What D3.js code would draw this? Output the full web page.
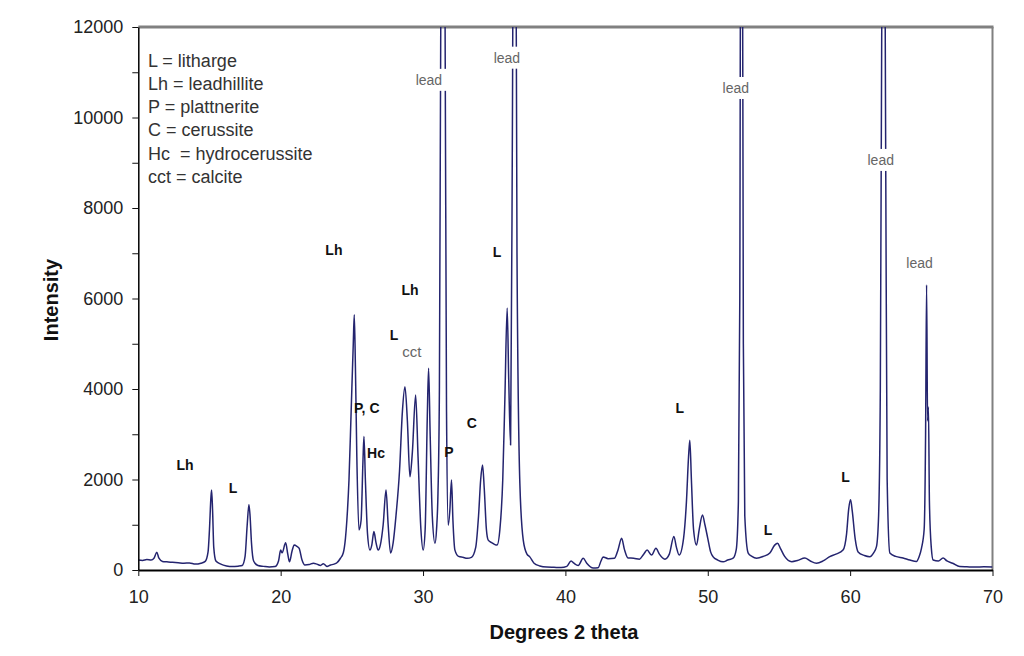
<!DOCTYPE html>
<html><head><meta charset="utf-8">
<script src="https://cdn.jsdelivr.net/npm/d3@7"></script>
<style>
body{margin:0;background:#fff}
text{font-family:"Liberation Sans",Arial,sans-serif}
</style>
</head><body>
<svg id="c" width="1024" height="656"></svg>
<script>
// ---- data ----
const scan = [
[10.0,220],[10.3,210],[10.6,230],[10.9,220],[11.1,260],[11.3,390],[11.45,260],[11.7,190],
[12.0,180],[12.4,170],[12.8,160],[13.2,150],[13.6,155],[14.0,130],[14.4,150],[14.7,190],
[14.9,400],[15.0,900],[15.1,1600],[15.15,1770],[15.22,1300],[15.3,500],[15.45,200],[15.8,130],
[16.2,90],[16.6,75],[17.0,85],[17.3,100],[17.5,300],[17.65,1000],[17.77,1440],[17.85,1200],
[17.95,600],[18.1,200],[18.4,100],[18.8,80],[19.2,65],[19.6,75],[19.85,200],[20.0,440],
[20.1,380],[20.35,600],[20.5,350],[20.62,180],[20.8,420],[20.95,550],[21.15,520],[21.3,480],
[21.5,220],[21.7,110],[22.0,120],[22.3,150],[22.55,130],[22.8,100],[23.0,140],[23.25,80],
[23.5,110],[23.75,130],[23.95,160],[24.2,260],[24.4,380],[24.55,700],[24.65,1100],[24.8,2000],
[24.95,3500],[25.1,5000],[25.17,5640],[25.25,4500],[25.35,2500],[25.5,885],[25.65,1100],[25.78,2400],
[25.85,2950],[25.95,2000],[26.1,800],[26.27,440],[26.4,550],[26.55,850],[26.7,600],[26.85,440],
[27.0,550],[27.2,1000],[27.4,1770],[27.55,1000],[27.72,375],[27.9,600],[28.1,1200],[28.35,2200],
[28.55,3500],[28.73,4050],[28.9,3300],[29.08,2060],[29.25,2600],[29.48,3870],[29.65,2500],[29.85,900],
[30.01,440],[30.15,900],[30.3,3400],[30.39,4460],[30.5,3000],[30.65,1200],[30.84,590],[30.95,900],
[31.05,1700],[31.15,4000],[31.25,12500],[31.33,16000],[31.45,16000],[31.55,12000],[31.65,3500],[31.77,990],
[31.88,1300],[32.0,1990],[32.1,1100],[32.24,440],[32.5,300],[32.8,280],[33.1,260],[33.4,280],
[33.7,500],[33.9,1200],[34.05,2000],[34.18,2320],[34.3,1800],[34.45,900],[34.58,660],[34.85,600],
[35.05,560],[35.2,550],[35.4,900],[35.6,2000],[35.75,3800],[35.91,5790],[36.02,4200],[36.15,2760],
[36.28,10000],[36.36,16000],[36.5,16000],[36.6,7000],[36.8,1920],[37.04,660],[37.3,350],[37.5,290],
[37.8,150],[38.2,90],[38.7,65],[39.2,60],[39.7,55],[40.1,80],[40.4,200],[40.6,150],
[40.9,100],[41.25,260],[41.5,150],[41.95,44],[42.3,50],[42.5,200],[42.65,290],[43.0,250],
[43.45,260],[43.7,450],[43.95,700],[44.15,450],[44.4,265],[44.8,260],[45.2,240],[45.5,350],
[45.74,440],[46.05,330],[46.36,480],[46.6,350],[46.99,240],[47.3,350],[47.62,740],[47.8,500],
[47.99,330],[48.3,700],[48.5,1500],[48.65,2500],[48.74,2870],[48.85,2000],[49.0,900],[49.21,550],
[49.4,900],[49.63,1215],[49.8,1000],[50.0,700],[50.2,400],[50.38,290],[50.7,220],[51.08,180],
[51.4,220],[51.78,260],[52.0,450],[52.15,1500],[52.25,6000],[52.32,16000],[52.42,16000],[52.5,5000],
[52.6,1200],[52.84,375],[53.1,300],[53.43,260],[53.9,300],[54.36,375],[54.7,550],[54.9,590],
[55.1,480],[55.4,300],[55.9,185],[56.3,210],[56.82,265],[57.2,200],[57.64,150],[58.1,200],
[58.57,295],[59.0,350],[59.5,440],[59.75,800],[59.9,1350],[60.03,1550],[60.15,1300],[60.35,700],
[60.56,400],[61.0,320],[61.38,295],[61.65,380],[61.85,515],[62.0,1200],[62.12,4000],[62.22,12000],
[62.3,16000],[62.4,16000],[62.5,9000],[62.6,2000],[62.79,375],[63.2,300],[63.72,265],[64.2,220],
[64.66,190],[64.85,300],[65.01,480],[65.2,900],[65.3,3000],[65.37,6300],[65.44,3300],[65.5,3600],
[65.57,1500],[65.7,500],[65.83,220],[66.2,200],[66.53,265],[66.8,200],[67.2,150],[67.7,75],
[68.2,70],[68.8,65],[69.4,70],[70.0,65]
];
const xTicks = [10,20,30,40,50,60,70];
const yTicks = [0,1000,2000,3000,4000,5000,6000,7000,8000,9000,10000,11000,12000];
const yLabelTicks = [0,2000,4000,6000,8000,10000,12000];
const legendLines = ["L = litharge","Lh = leadhillite","P = plattnerite","C = cerussite","Hc  = hydrocerussite","cct = calcite"];
const phaseText = ["Lh","L","Lh","P, C","Hc","Lh","L","P","C","L","L","L","L"];
const phaseX    = [13.28,16.66,23.74,26.05,26.7,29.08,27.96,31.82,33.43,35.19,48.04,54.24,59.68];
const phaseY    = [2320,1810,7070,3580,2590,6190,5190,2610,3250,7030,3580,880,2060];
const grayText  = ["cct","lead","lead","lead","lead","lead"];
const grayX     = [29.22,30.41,35.89,51.97,62.15,64.88];
const grayY     = [4820,10830,11320,10650,9060,6780];

// ---- chart ----
const svg = d3.select('#c');
const L = 138.3, R = 992.5, T = 27, B = 570;
const x = d3.scaleLinear().domain([10,70]).range([L,R]);
const y = d3.scaleLinear().domain([0,12000]).range([B,T]);

svg.append('defs').append('clipPath').attr('id','clip')
  .append('rect').attr('x',L).attr('y',T).attr('width',R-L).attr('height',B-T);

// frame (top & right)
svg.append('line').attr('x1',L).attr('x2',R+1).attr('y1',T).attr('y2',T)
  .attr('stroke','#808080').attr('stroke-width',3);
svg.append('line').attr('x1',R).attr('x2',R).attr('y1',T).attr('y2',B)
  .attr('stroke','#808080').attr('stroke-width',2);

// data line
svg.append('path').datum(scan)
  .attr('clip-path','url(#clip)')
  .attr('fill','none').attr('stroke','#24246f').attr('stroke-width',1.5)
  .attr('stroke-linejoin','round')
  .attr('d', d3.line().curve(d3.curveMonotoneX).x(d=>x(d[0])).y(d=>y(d[1])));

// axes
const yAxis = svg.append('g').attr('transform',`translate(${L},0)`)
  .call(d3.axisLeft(y).tickValues(yTicks).tickSize(6).tickSizeOuter(0).tickPadding(9)
    .tickFormat(d => yLabelTicks.includes(d) ? String(d) : ''));
const xAxis = svg.append('g').attr('transform',`translate(0,${B})`)
  .call(d3.axisBottom(x).tickValues(xTicks).tickSize(6).tickSizeOuter(0).tickPadding(14)
    .tickFormat(d3.format('d')));
[yAxis,xAxis].forEach(g=>{
  g.selectAll('text').attr('font-size',18).attr('fill','#222')
    .attr('font-family','"Liberation Sans",Arial,sans-serif');
  g.selectAll('line').attr('stroke','#111');
});
yAxis.select('.domain').attr('stroke','#000').attr('stroke-width',1.5);
xAxis.select('.domain').attr('stroke','#000').attr('stroke-width',2);

// axis titles
svg.append('text').attr('x',564).attr('y',639).attr('text-anchor','middle')
  .attr('font-size',20).attr('font-weight','bold').attr('fill','#111').text('Degrees 2 theta');
svg.append('text').attr('transform','translate(58,300) rotate(-90)').attr('text-anchor','middle')
  .attr('font-size',20).attr('font-weight','bold').attr('fill','#111').text('Intensity');

// legend text
svg.append('g').selectAll('text').data(legendLines).join('text')
  .attr('x',148).attr('y',(d,i)=>66.5+i*23.3)
  .attr('font-size',18).attr('fill','#333').style('white-space','pre')
  .text(d=>d);

// phase labels (bold)
svg.append('g').selectAll('text').data(phaseText).join('text')
  .attr('x',(d,i)=>x(phaseX[i])).attr('y',(d,i)=>y(phaseY[i]))
  .attr('dy','0.35em').attr('text-anchor','middle')
  .attr('font-size',14).attr('font-weight','bold').attr('fill','#111')
  .text(d=>d);

// gray labels with white background
const gg = svg.append('g');
grayText.forEach((t,i)=>{
  const g = gg.append('g');
  const txt = g.append('text').attr('x',x(grayX[i])).attr('y',y(grayY[i]))
    .attr('dy','0.35em').attr('text-anchor','middle')
    .attr('font-size', t==='cct'?15:14).attr('fill','#666').text(t);
  const bb = txt.node().getBBox();
  g.insert('rect','text').attr('x',bb.x-2).attr('y',bb.y-3)
    .attr('width',bb.width+(t==='lead'?12:4)).attr('height',bb.height+6).attr('fill','#fff');
});
</script>
</body></html>
